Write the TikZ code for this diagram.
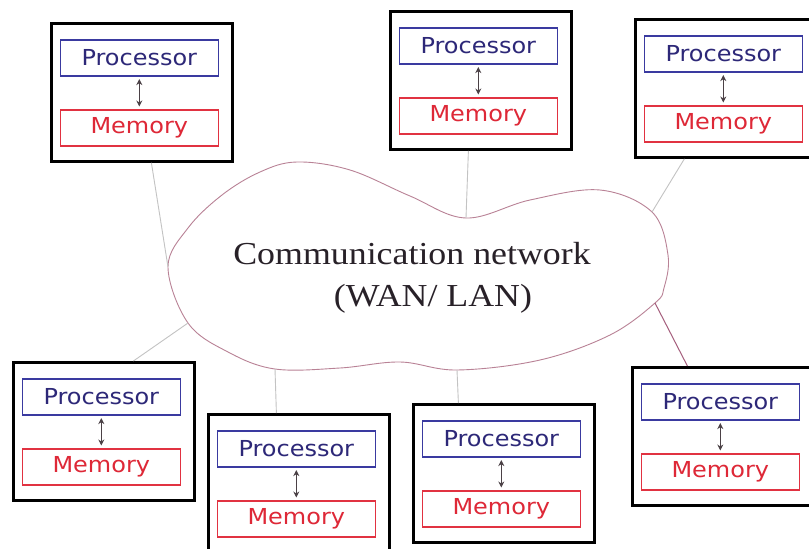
\documentclass[tikz,border=0pt]{standalone}
\usepackage{fontspec}
\setmainfont{Liberation Serif}
\newfontfamily\boxfont{DejaVu Sans}
\usetikzlibrary{arrows.meta,calc}
\definecolor{procblue}{RGB}{58,58,160}
\definecolor{proctext}{RGB}{45,40,120}
\definecolor{memred}{RGB}{225,50,65}
\definecolor{memtext}{RGB}{222,40,55}
\definecolor{cloudline}{RGB}{185,130,150}
\definecolor{linkgray}{RGB}{195,195,195}
\definecolor{linkdark}{RGB}{165,95,125}
\definecolor{arrowgray}{RGB}{75,65,70}
\definecolor{nettext}{RGB}{40,33,40}
\newcommand\pmunit[3]{%
  \node[outerbox] (o#1) at (#2,#3) {};
  \node[procbox] (p#1) at ($(o#1.north west)+(9.5,17)$) {\scalebox{1.09}[1]{Processor}};
  \node[membox] (m#1) at ($(o#1.north west)+(9.5,87)$) {\scalebox{1.09}[1]{Memory}};
  \draw[pm] (p#1) -- (m#1);
}
\begin{document}
\begin{tikzpicture}[x=1pt,y=-1pt,
  outerbox/.style={draw=black, line width=2.8pt, minimum width=181pt, minimum height=138pt, inner sep=0pt, anchor=north west, fill=white},
  procbox/.style={draw=procblue, line width=1.6pt, minimum width=158pt, minimum height=36pt, inner sep=0pt, anchor=north west, text=proctext, font=\boxfont\fontsize{22}{26}\selectfont},
  membox/.style={procbox, draw=memred, text=memtext},
  link/.style={draw=linkgray, line width=0.9pt},
  linkd/.style={draw=linkdark, line width=1pt},
  pm/.style={{Stealth[length=6pt,width=6pt]}-{Stealth[length=6pt,width=6pt]}, draw=arrowgray, line width=1.3pt, shorten >=2.5pt, shorten <=2.5pt},
  nettxt/.style={text=nettext, font=\fontsize{32}{38}\selectfont, inner sep=0pt}
]
\fill[white] (0,0) rectangle (809,549);
\useasboundingbox (0,0) rectangle (809,549);
\clip (0,0) rectangle (809,549);

% cloud
\draw[cloudline, line width=0.9pt] plot[smooth cycle, tension=0.6] coordinates {
  (168,267) (188,228) (222,195) (260,172) (297,162) (350,170) (410,196)
  (466,218) (530,200) (600,190) (652,212) (668,255) (664,288) (655,303)
  (610,335) (540,360) (457,370) (400,362) (340,368) (275,369) (228,352) (188,323)};
\coordinate (cl1) at (168,267);
\coordinate (cl2) at (466,218);
\coordinate (cl3) at (652,212);
\coordinate (cl4) at (188,323);
\coordinate (cl5) at (275,369);
\coordinate (cl6) at (457,370);
\coordinate (cl7) at (655,303);

\node[nettxt] (net1) at (412,254) {\scalebox{1.12}[1]{Communication network}};
\node[nettxt] (net2) at (433,299) {\scalebox{1.12}[1]{(WAN/ LAN)}};

% units
\pmunit{1}{50}{22}
\pmunit{2}{389}{10}
\pmunit{3}{634}{18}
\pmunit{4}{12}{361}
\pmunit{5}{207}{413}
\pmunit{6}{412}{403}
\pmunit{7}{631}{366}

% connectors
\draw[link] ([xshift=9.5pt]o1.south) -- (cl1);
\draw[link] ([xshift=-12.5pt]o2.south) -- (cl2);
\draw[link] ([xshift=-41.5pt]o3.south) -- (cl3);
\draw[link] ([xshift=29.5pt]o4.north) -- (cl4);
\draw[link] ([xshift=-22.5pt]o5.north) -- (cl5);
\draw[link] ([xshift=-45.5pt]o6.north) -- (cl6);
\draw[linkd] ([xshift=-35.5pt]o7.north) -- (cl7);
\end{tikzpicture}
\end{document}
